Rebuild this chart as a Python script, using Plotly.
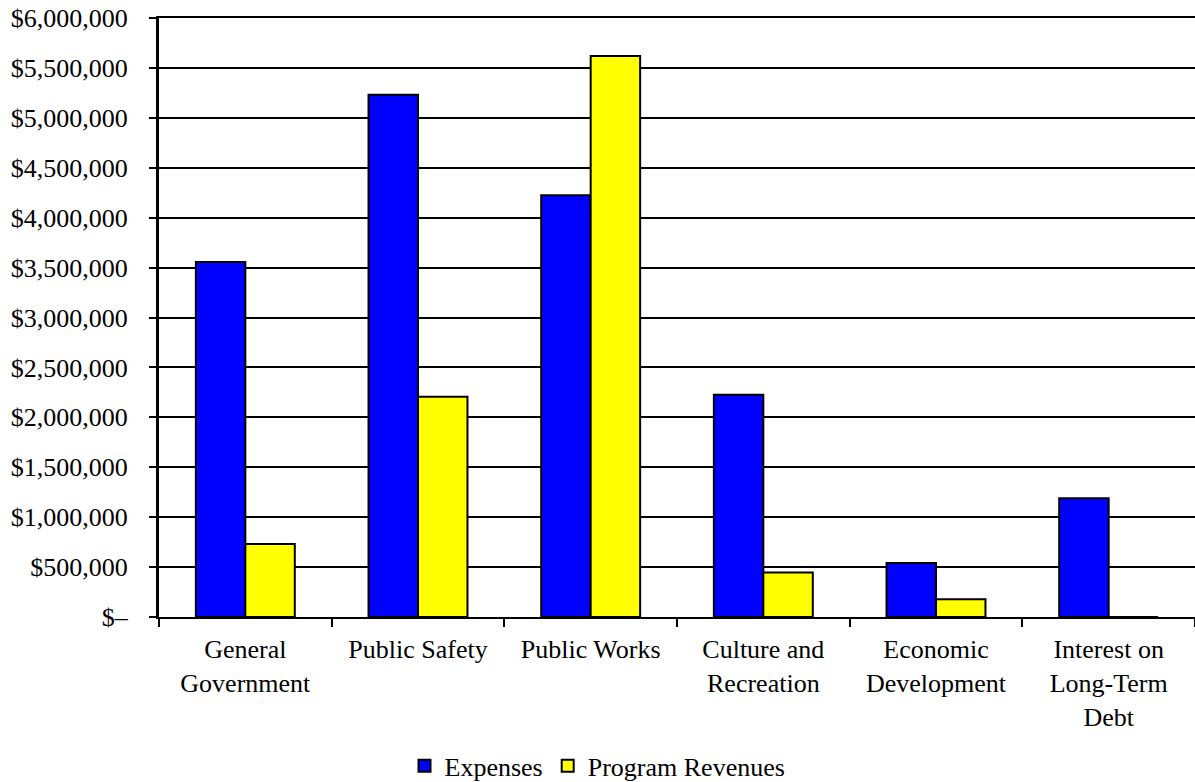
import plotly.graph_objects as go

categories = ["General<br>Government", "Public Safety", "Public Works",
              "Culture and<br>Recreation", "Economic<br>Development",
              "Interest on<br>Long-Term<br>Debt"]
expenses = [3555000, 5230000, 4225000, 2225000, 540000, 1190000]
program_revenues = [730000, 2205000, 5620000, 445000, 178000, 0]

y_tickvals = [0, 500000, 1000000, 1500000, 2000000, 2500000, 3000000,
              3500000, 4000000, 4500000, 5000000, 5500000, 6000000]
y_ticktext = ["$–", "$500,000", "$1,000,000", "$1,500,000", "$2,000,000",
              "$2,500,000", "$3,000,000", "$3,500,000", "$4,000,000",
              "$4,500,000", "$5,000,000", "$5,500,000", "$6,000,000"]

FONT = "Liberation Serif, Times New Roman, serif"
FS = 26

fig = go.Figure()
fig.add_trace(go.Bar(name="Expenses", x=categories, y=expenses,
                     marker=dict(color="#0000FF", line=dict(color="black", width=2))))
fig.add_trace(go.Bar(name="Program Revenues", x=categories, y=program_revenues,
                     marker=dict(color="#FFFF00", line=dict(color="black", width=2))))

fig.update_layout(
    width=1195, height=782,
    paper_bgcolor="white", plot_bgcolor="white",
    font=dict(family=FONT, size=FS, color="black"),
    margin=dict(l=159, r=0, t=18, b=165, autoexpand=False),
    barmode="group", bargap=0.427, bargroupgap=0,
    showlegend=True,
    legend=dict(orientation="h", xref="container", yref="container",
                x=0.5, xanchor="center", y=0.0205, yanchor="middle",
                font=dict(family=FONT, size=FS), itemwidth=30,
                traceorder="normal"),
)
fig.update_xaxes(
    type="category", showline=True, linecolor="black", linewidth=2, mirror=True,
    ticks="outside", tickson="boundaries", ticklen=8, tickwidth=2, tickcolor="black",
    showgrid=False, tickfont=dict(family=FONT, size=FS), automargin=False,
    ticklabelstandoff=8,
)
fig.update_yaxes(
    range=[0, 6000000], tickvals=y_tickvals, ticktext=y_ticktext,
    showline=True, linecolor="black", linewidth=3, mirror=False,
    ticks="outside", ticklen=7, tickwidth=2, tickcolor="black",
    showgrid=True, gridcolor="black", gridwidth=2, ticklabelstandoff=16,
    ticklabeloverflow="allow",
    zeroline=False, tickfont=dict(family=FONT, size=FS), automargin=False,
)

fig.write_html("out.html", config={"displayModeBar": False},
               post_script="document.body.style.margin='0';document.body.style.overflow='hidden';")
